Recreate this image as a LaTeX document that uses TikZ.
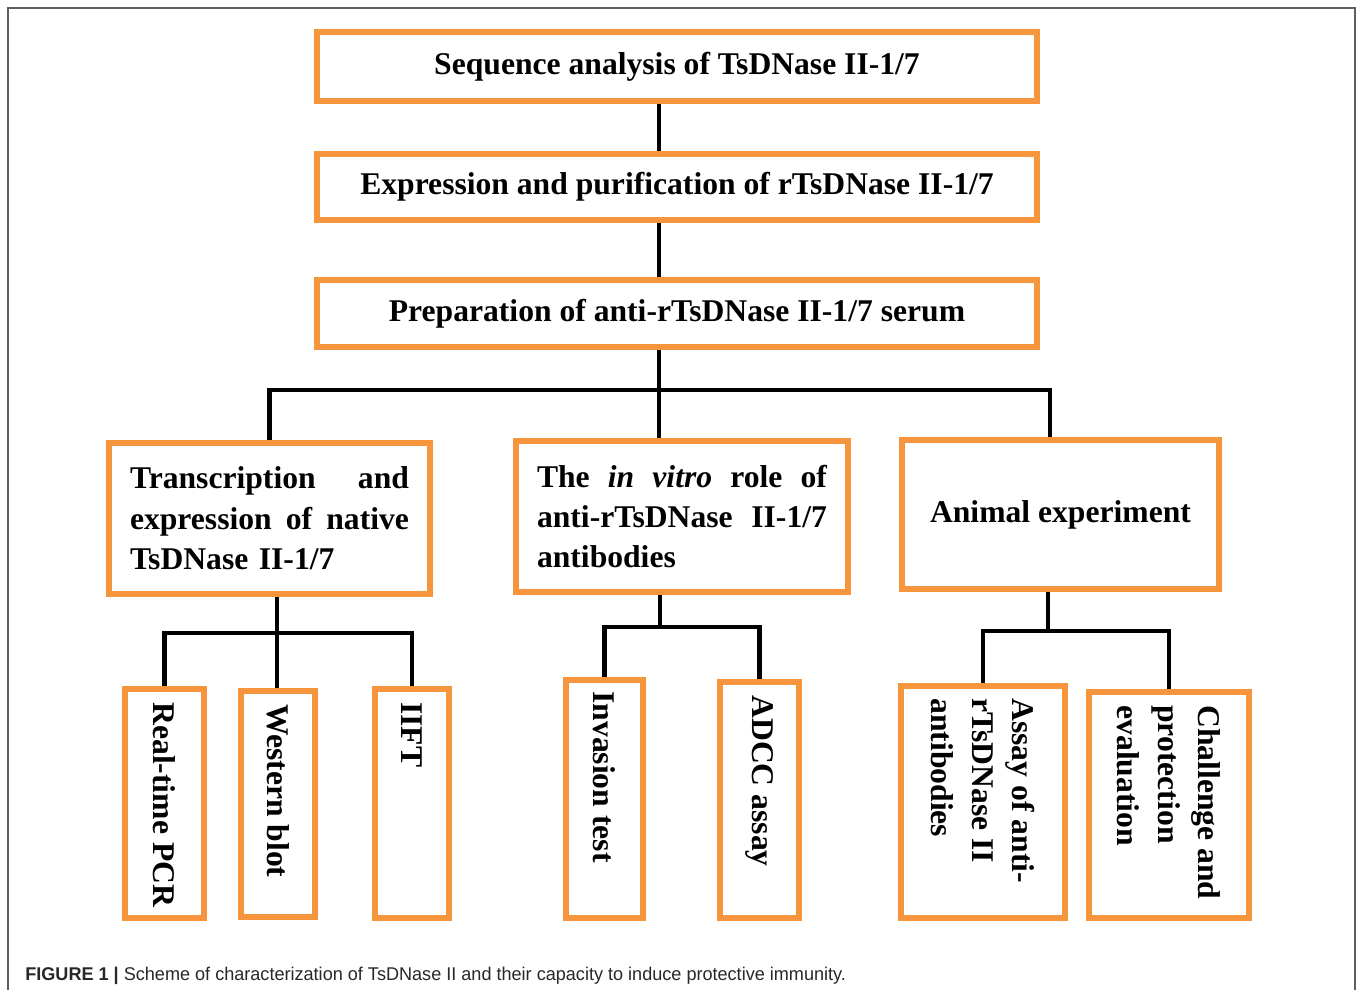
\documentclass[tikz,border=0pt]{standalone}
\usepackage{fontspec}
\setmainfont{Liberation Serif}
\newfontfamily\capfont[FakeStretch=0.98]{Liberation Sans}
\usetikzlibrary{positioning}
\definecolor{boxorange}{RGB}{247,148,62}
\definecolor{framegray}{RGB}{95,95,95}
\definecolor{capgray}{RGB}{40,40,40}

\tikzset{
  stage/.style={draw=boxorange, line width=3.4pt, rectangle, inner sep=0pt,
    font=\bfseries\fontsize{18}{23}\selectfont},
  wide/.style={stage, minimum width=14.4cm},
  leaftext/.style={rotate=-90, anchor=west, inner sep=0pt, align=left,
    font=\bfseries\fontsize{18}{23}\selectfont},
  link/.style={draw=black, line width=2.8pt},
}

\begin{document}
\begin{tikzpicture}[x=0.02cm, y=-0.02cm, node distance=1cm]
\useasboundingbox (0,0) rectangle (1357,990);
% frame
\draw[framegray, line width=0.8pt] (8,990) -- (8,8) -- (1355,8) -- (1355,990);

% main steps
\node[wide, minimum height=1.38cm] (seq) at (677,66.5) {Sequence analysis of TsDNase II-1/7};
\node[wide, minimum height=1.32cm, below=0.94cm of seq] (expr) {Expression and purification of rTsDNase II-1/7};
\node[wide, minimum height=1.34cm, below=1.08cm of expr] (prep) {Preparation of anti-rTsDNase II-1/7 serum};

% second level
\node[stage, minimum width=6.42cm, minimum height=3.02cm, text width=5.58cm, align=left] (trans) at (269.5,518.5)
  {Transcription\hfill and\\ expression\hfill of\hfill native\\ TsDNase II-1/7};
\node[stage, minimum width=6.64cm, minimum height=3.02cm, text width=5.8cm, align=left] (vitro) at (682,516.5)
  {The\hfill \textit{in}\hfill \textit{vitro}\hfill role\hfill of\\ anti-rTsDNase\hfill II-1/7\\ antibodies};
\node[stage, minimum width=6.34cm, minimum height=2.98cm] (animal) at (1060.5,514.5) {Animal experiment};

% assays
\node[stage, minimum width=1.58cm, minimum height=4.58cm] (pcr) at (164.5,803.5) {};
\node[stage, minimum width=1.48cm, minimum height=4.52cm] (western) at (278,804) {};
\node[stage, minimum width=1.48cm, minimum height=4.58cm] (iift) at (412,803.5) {};
\node[stage, minimum width=1.54cm, minimum height=4.76cm] (invasion) at (604.5,799) {};
\node[stage, minimum width=1.58cm, minimum height=4.72cm] (adcc) at (759.5,800) {};
\node[stage, minimum width=3.28cm, minimum height=4.64cm] (assay) at (983,802) {};
\node[stage, minimum width=3.2cm, minimum height=4.52cm] (challenge) at (1169,805) {};

\node[leaftext] (pcr-t) at ([yshift=-0.32cm]pcr.north) {Real-time PCR};
\node[leaftext] (western-t) at ([yshift=-0.32cm]western.north) {Western blot};
\node[leaftext] (iift-t) at ([yshift=-0.32cm]iift.north) {IIFT};
\node[leaftext] (invasion-t) at ([yshift=-0.28cm]invasion.north) {Invasion test};
\node[leaftext] (adcc-t) at ([yshift=-0.32cm]adcc.north) {ADCC assay};
\node[leaftext] (assay-t) at ([yshift=-0.3cm]assay.north) {Assay of anti-\\ rTsDNase II\\ antibodies};
\node[leaftext] (challenge-t) at ([yshift=-0.32cm]challenge.north) {Challenge and\\ protection\\ evaluation};

% connectors
\coordinate (hub) at (659,390);
\coordinate (hubR) at (1050,390);
\coordinate (forkA) at (277,633);
\coordinate (forkB) at (660,627);
\coordinate (forkC) at (1048,631);

\draw[link] (seq.south -| hub) -- (expr.north -| hub);
\draw[link] (expr.south -| hub) -- (prep.north -| hub);
\draw[link] (prep.south -| hub) -- (hub);
\draw[link] (trans.north) |- (hubR) -- (animal.north -| hubR);
\draw[link] (hub) -- (vitro.north -| hub);

\draw[link] (trans.south -| forkA) -- (forkA);
\draw[link] (pcr.north) |- (forkA) -| (iift.north);
\draw[link] (forkA) -- (western.north -| forkA);

\draw[link] (vitro.south -| forkB) -- (forkB);
\draw[link] (invasion.north) |- (forkB) -| (adcc.north);

\draw[link] (animal.south -| forkC) -- (forkC);
\draw[link] (assay.north) |- (forkC) -| (challenge.north);

% caption
\node[anchor=base west, inner sep=0pt, text=capgray, font=\capfont\fontsize{10.5}{12}\selectfont] (caption) at (25,980)
  {\textbf{FIGURE 1 |} Scheme of characterization of TsDNase II and their capacity to induce protective immunity.};
\end{tikzpicture}
\end{document}
